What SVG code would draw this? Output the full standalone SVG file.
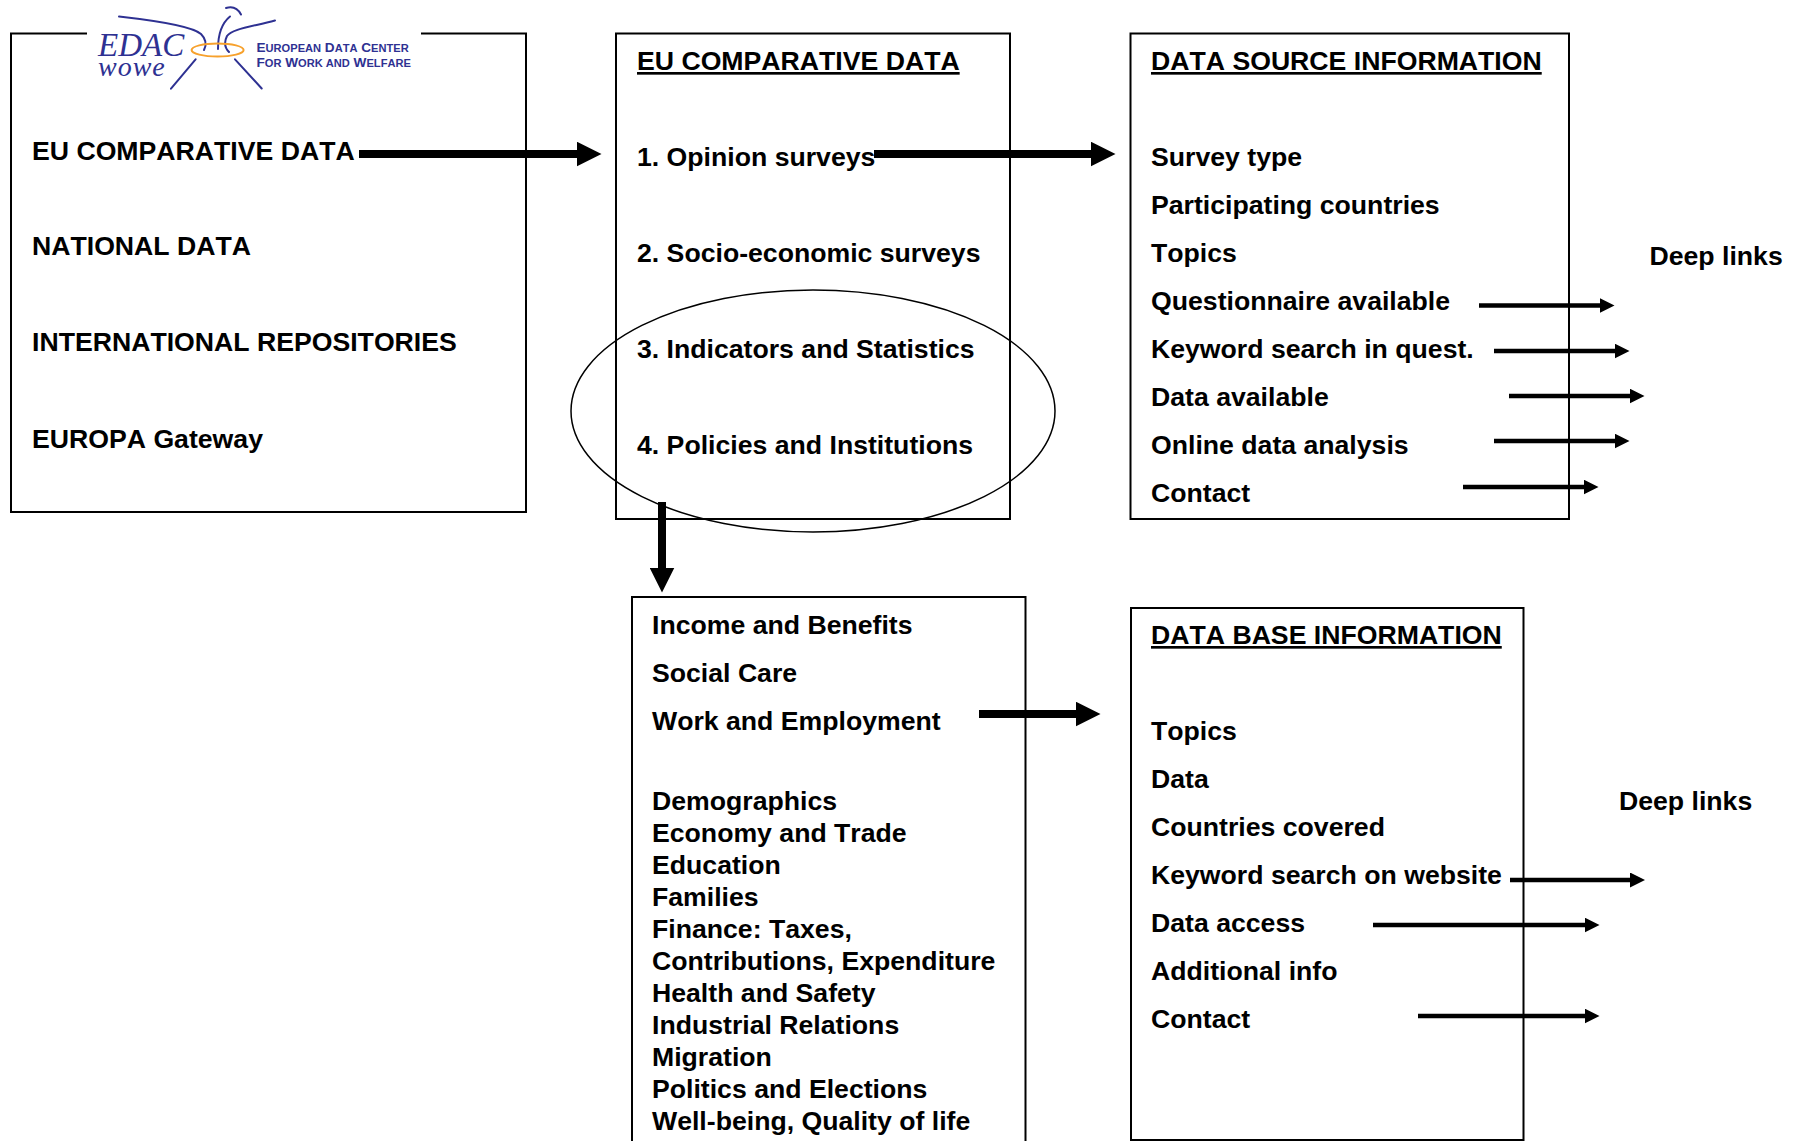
<svg xmlns="http://www.w3.org/2000/svg" width="1796" height="1141" viewBox="0 0 1796 1141">
<style>
text{font-family:"Liberation Sans",Arial,sans-serif;font-weight:700;font-size:26.65px;fill:#000;font-kerning:none}
.box{fill:none;stroke:#000;stroke-width:2}
.h{text-decoration:underline}
.big{stroke:#000;stroke-width:8;fill:none;marker-end:url(#bigHead)}
.small{stroke:#000;stroke-width:4.5;fill:none;marker-end:url(#smallHead)}
.blue{fill:none;stroke:#2e3192;stroke-width:2;stroke-linecap:round}
.logo{fill:#2e3192;font-weight:700;font-size:13.6px}
.logo tspan.c{font-size:11.100px}
.script{font-family:"Liberation Serif",serif;font-style:italic;font-weight:400;fill:#2e3192}
</style>
<defs>
<marker id="bigHead" markerUnits="userSpaceOnUse" markerWidth="25" markerHeight="25" refX="2" refY="12.5" orient="auto"><path d="M0 0L25 12.5L0 25z" fill="#000"/></marker>
<marker id="smallHead" markerUnits="userSpaceOnUse" markerWidth="15" markerHeight="15" refX="2" refY="7.5" orient="auto"><path d="M0 0L15 7.5L0 15z" fill="#000"/></marker>
</defs>
<rect width="1796" height="1141" fill="#fff"/>
<g id="node-portal">
<path class="box" d="M87 33.500H11V512H526V33.500H421"/>
<text x="32" y="160">EU COMPARATIVE DATA</text>
<text x="32" y="255">NATIONAL DATA</text>
<text x="32" y="351">INTERNATIONAL REPOSITORIES</text>
<text x="32" y="447.500">EUROPA Gateway</text>
</g>
<g id="logo">
<path class="blue" d="M119 16.500C150 20 192 26 201 34C206 39 207 44 204 50"/>
<path class="blue" d="M226 8Q236 5 241 14.500"/>
<path class="blue" d="M230 16.500C222 23 218 35 218 49"/>
<path class="blue" d="M275 20.500C250 27 232 29 227 36C224 42 225 48 229 52"/>
<path class="blue" d="M195.600 59.300L171 88.700M235 59.300L261.700 88.500"/>
<ellipse cx="217.600" cy="50" rx="26" ry="6.500" fill="none" stroke="#f7a12c" stroke-width="2"/>
<text class="script" x="98" y="56" style="font-size:33px">EDAC</text>
<text class="script" x="98" y="76" style="font-size:28px;letter-spacing:1px">wowe</text>
<text class="logo" x="256.500" y="52">E<tspan class="c">UROPEAN</tspan> D<tspan class="c">ATA</tspan> C<tspan class="c">ENTER</tspan></text>
<text class="logo" x="256.500" y="67">F<tspan class="c">OR</tspan> W<tspan class="c">ORK AND</tspan> W<tspan class="c">ELFARE</tspan></text>
</g>
<g id="node-eu-comparative">
<rect class="box" x="616" y="33.500" width="394" height="485.500"/>
<text class="h" x="637" y="70">EU COMPARATIVE DATA</text>
<text x="637" y="166">1. Opinion surveys</text>
<text x="637" y="262">2. Socio-economic surveys</text>
<text x="637" y="358">3. Indicators and Statistics</text>
<text x="637" y="454">4. Policies and Institutions</text>
</g>
<g id="node-selection">
<ellipse cx="813" cy="411" rx="242" ry="121" fill="none" stroke="#000" stroke-width="1.500"/>
</g>
<g id="node-data-source">
<rect class="box" x="1130.500" y="33.500" width="438.500" height="485.500"/>
<text class="h" x="1151" y="70">DATA SOURCE INFORMATION</text>
<text x="1151" y="166">Survey type</text>
<text x="1151" y="214">Participating countries</text>
<text x="1151" y="262">Topics</text>
<text x="1151" y="310">Questionnaire available</text>
<text x="1151" y="358">Keyword search in quest.</text>
<text x="1151" y="406">Data available</text>
<text x="1151" y="454">Online data analysis</text>
<text x="1151" y="502">Contact</text>
</g>
<g id="node-topics">
<path class="box" d="M632 1141V597H1025.500V1141"/>
<text x="652" y="634">Income and Benefits</text>
<text x="652" y="682">Social Care</text>
<text x="652" y="730">Work and Employment</text>
<text x="652" y="810">Demographics</text>
<text x="652" y="842">Economy and Trade</text>
<text x="652" y="874">Education</text>
<text x="652" y="906">Families</text>
<text x="652" y="938">Finance: Taxes,</text>
<text x="652" y="970">Contributions, Expenditure</text>
<text x="652" y="1002">Health and Safety</text>
<text x="652" y="1034">Industrial Relations</text>
<text x="652" y="1066">Migration</text>
<text x="652" y="1098">Politics and Elections</text>
<text x="652" y="1130">Well-being, Quality of life</text>
</g>
<g id="node-data-base">
<path class="box" d="M1131 1140V608H1523.500V1140Z"/>
<text class="h" x="1151" y="644">DATA BASE INFORMATION</text>
<text x="1151" y="740">Topics</text>
<text x="1151" y="788">Data</text>
<text x="1151" y="836">Countries covered</text>
<text x="1151" y="884">Keyword search on website</text>
<text x="1151" y="932">Data access</text>
<text x="1151" y="980">Additional info</text>
<text x="1151" y="1028">Contact</text>
</g>
<g id="deep-links">
<text x="1649.500" y="264.500">Deep links</text>
<text x="1619" y="810">Deep links</text>
</g>
<g id="connectors">
<line class="big" x1="359" y1="154" x2="578.500" y2="154"/>
<line class="big" x1="874" y1="154" x2="1092.500" y2="154"/>
<line class="big" x1="662" y1="502" x2="662" y2="569.500"/>
<line class="big" x1="979" y1="714" x2="1077.500" y2="714"/>
<line class="small" x1="1479" y1="305.500" x2="1601.500" y2="305.500"/>
<line class="small" x1="1494" y1="351" x2="1616.500" y2="351"/>
<line class="small" x1="1509" y1="396" x2="1631.500" y2="396"/>
<line class="small" x1="1494" y1="441" x2="1616.500" y2="441"/>
<line class="small" x1="1463" y1="487" x2="1585.500" y2="487"/>
<line class="small" x1="1510" y1="880" x2="1632" y2="880"/>
<line class="small" x1="1373" y1="925" x2="1586.500" y2="925"/>
<line class="small" x1="1418" y1="1016" x2="1586.500" y2="1016"/>
</g>
</svg>
